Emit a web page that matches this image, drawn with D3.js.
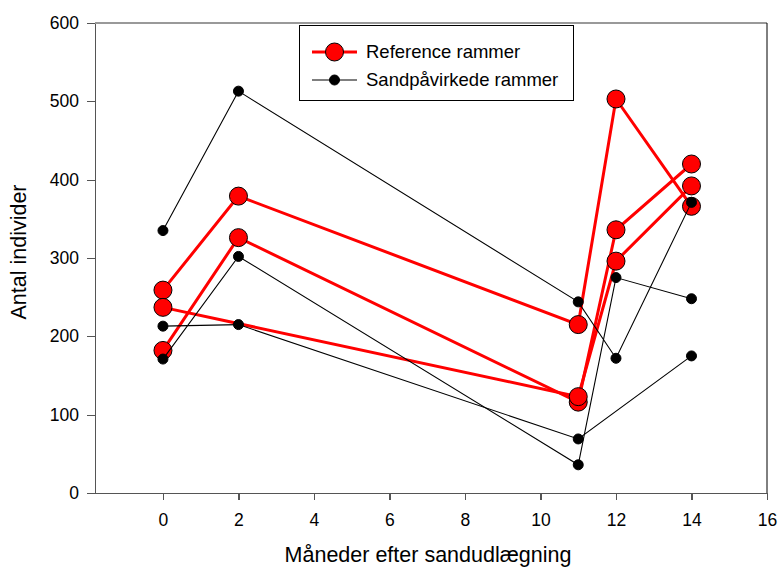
<html>
<head>
<meta charset="UTF-8">
<script src="https://d3js.org/d3.v7.min.js"></script>
<style>
  body { margin: 0; background: #fff; font-family: "Liberation Sans", Arial, sans-serif; }
  .axis path, .axis line { stroke: #555; stroke-width: 1.3; shape-rendering: crispEdges; }
  .axis text { font-size: 17.5px; fill: #000; font-family: "Liberation Sans", Arial, sans-serif; }
</style>
</head>
<body>
<script>
// x positions (months after sand placement)
let months = [0, 2, 11, 12, 14];

// reference frames (red), null = no measurement
let ref1 = [259, 379, 215, 503, 366];
let ref2 = [182, 326, 116, 336, 420];
let ref3 = [237, null, 123, 296, 392];

// sand affected frames (black)
let sand1 = [335, 513, 244, 172, 371];
let sand2 = [213, 215, 69, null, 175];
let sand3 = [171, 302, 36, 275, 248];

let xTicks = [0, 2, 4, 6, 8, 10, 12, 14, 16];
let yTicks = [0, 100, 200, 300, 400, 500, 600];

let refLabel = "Reference rammer";
let sandLabel = "Sandpåvirkede rammer";

let W = 780, H = 571;
let margin = {top: 23, right: 13, bottom: 78, left: 95};

let svg = d3.select("body").append("svg")
  .attr("width", W)
  .attr("height", H);

let x = d3.scaleLinear().domain([-1.8, 16]).range([margin.left, W - margin.right]);
let y = d3.scaleLinear().domain([0, 600]).range([H - margin.bottom, margin.top]);

// frame: top (grey) and right (black)
svg.append("line")
  .attr("x1", x(-1.8)).attr("x2", x(16))
  .attr("y1", y(600)).attr("y2", y(600))
  .attr("stroke", "#777").attr("stroke-width", 1.3);
svg.append("line")
  .attr("x1", x(16)).attr("x2", x(16))
  .attr("y1", y(600)).attr("y2", y(0))
  .attr("stroke", "#000").attr("stroke-width", 1);

// axes
svg.append("g")
  .attr("class", "axis")
  .attr("transform", "translate(0," + y(0) + ")")
  .call(d3.axisBottom(x).tickValues(xTicks).tickSize(7).tickSizeOuter(0).tickPadding(14).tickFormat(d3.format("d")));

svg.append("g")
  .attr("class", "axis")
  .attr("transform", "translate(" + x(-1.8) + ",0)")
  .call(d3.axisLeft(y).tickValues(yTicks).tickSize(8).tickSizeOuter(0).tickPadding(8));

// axis titles
svg.append("text")
  .attr("x", (margin.left + W - margin.right) / 2 - 3)
  .attr("y", 562)
  .attr("text-anchor", "middle")
  .style("font-size", "21.5px")
  .text("Måneder efter sandudlægning");

svg.append("text")
  .attr("transform", "translate(26," + 252 + ") rotate(-90)")
  .attr("text-anchor", "middle")
  .style("font-size", "21.5px")
  .text("Antal individer");

// line generator, skipping missing months
let line = d3.line()
  .x(d => x(d.m))
  .y(d => y(d.v));

function toPoints(arr) {
  return arr.map((v, i) => ({m: months[i], v: v})).filter(d => d.v !== null);
}

function drawSeries(arr, color, width, r) {
  let pts = toPoints(arr);
  svg.append("path")
    .attr("d", line(pts))
    .attr("fill", "none")
    .attr("stroke", color)
    .attr("stroke-width", width);
  svg.selectAll(null)
    .data(pts)
    .enter().append("circle")
    .attr("cx", d => x(d.m))
    .attr("cy", d => y(d.v))
    .attr("r", r)
    .attr("fill", color)
    .attr("stroke", "#000")
    .attr("stroke-width", 1);
}

[ref1, ref2, ref3].forEach(s => drawSeries(s, "#ff0000", 3, 9));
[sand1, sand2, sand3].forEach(s => drawSeries(s, "#000", 1.1, 5));

// legend
let lg = svg.append("g");
lg.append("rect")
  .attr("x", 299.5).attr("y", 25.5)
  .attr("width", 274).attr("height", 75)
  .attr("fill", "#fff")
  .attr("stroke", "#000")
  .attr("stroke-width", 1);

let legendItems = [
  {label: refLabel, color: "#ff0000", width: 3, r: 9, y: 52},
  {label: sandLabel, color: "#000", width: 1.1, r: 5, y: 80}
];

legendItems.forEach(d => {
  lg.append("line")
    .attr("x1", 312).attr("x2", 357)
    .attr("y1", d.y).attr("y2", d.y)
    .attr("stroke", d.color)
    .attr("stroke-width", d.width);
  lg.append("circle")
    .attr("cx", 334.5).attr("cy", d.y)
    .attr("r", d.r)
    .attr("fill", d.color)
    .attr("stroke", "#000");
  lg.append("text")
    .attr("x", 366).attr("y", d.y)
    .attr("dy", "0.35em")
    .style("font-size", "18.5px")
    .text(d.label);
});
</script>
</body>
</html>
